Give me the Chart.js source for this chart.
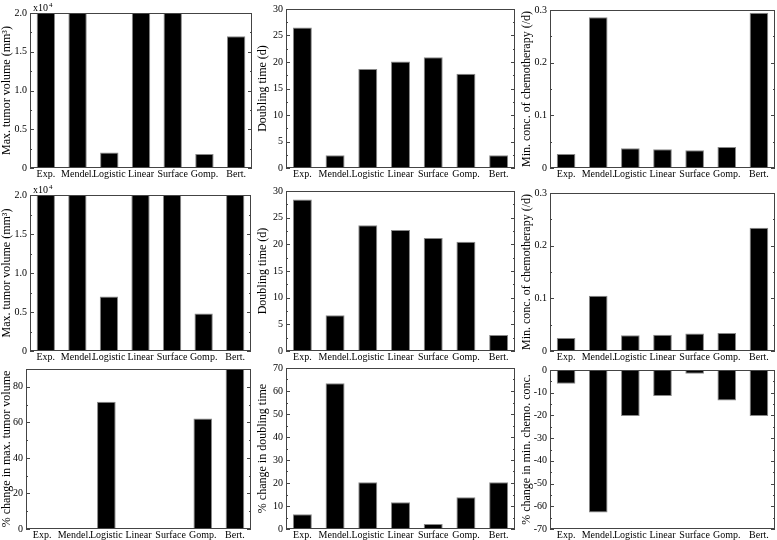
<!DOCTYPE html>
<html>
<head>
<meta charset="utf-8">
<script src="https://cdn.jsdelivr.net/npm/chart.js@4.4.1/dist/chart.umd.min.js"></script>
<style>
  body{margin:0;background:#fff}
  #wrap{position:relative;width:777px;height:540px;overflow:hidden;background:#fff}
  .box{position:absolute}
</style>
</head>
<body>
<div id="wrap"></div>
<script>
// Dados
const categories = ['Exp.','Mendel.','Logistic','Linear','Surface','Gomp.','Bert.'];

const maxVolA    = [20000,20000,2000,20000,20000,1800,17000];
const doublingA  = [26.5,2.4,18.7,20.1,20.9,17.8,2.4];
const minConcA   = [0.0266,0.286,0.0373,0.0354,0.0335,0.0399,0.295];

const maxVolB    = [20000,20000,7000,20000,20000,4800,20000];
const doublingB  = [28.4,6.7,23.6,22.7,21.2,20.5,3.0];
const minConcB   = [0.0245,0.105,0.030,0.031,0.033,0.034,0.234];

const pctMaxVol   = [null,null,71.6,null,null,62.2,90];
const pctDoubling = [6.4,63.4,20.3,11.6,2.2,13.8,20.3];
const pctMinConc  = [-6.1,-62.7,-20.2,-11.5,-1.7,-13.4,-20.2];

const FONT = "'Liberation Serif','Times New Roman',serif";

const fmtVol = v => v === 0 ? '0' : (v/1e4).toFixed(1);
const fmtDec = v => v === 0 ? '0' : v.toFixed(1);
const fmtInt = v => String(Math.round(v));

// paineis: area do grafico (L,T,R,B) em px da pagina
const panels = [
  {data:maxVolA,   title:'Max. tumor volume (mm\u00b3)',       min:0,   max:20000, step:5000, minor:2500, fmt:fmtVol, exp:true,  L:30,  T:13,  R:252, B:168, left:0,   top:0},
  {data:doublingA, title:'Doubling time (d)',                  min:0,   max:30,    step:5,    minor:2.5,  fmt:fmtInt,            L:286, T:8,   R:515, B:168, left:256, top:0},
  {data:minConcA,  title:'Min. conc. of chemotherapy (/d)',    min:0,   max:0.3,   step:0.1,  minor:0.05, fmt:fmtDec,            L:550, T:10,  R:775, B:168, left:520, top:0},
  {data:maxVolB,   title:'Max. tumor volume (mm\u00b3)',       min:0,   max:20000, step:5000, minor:2500, fmt:fmtVol, exp:true,  L:30,  T:195, R:251, B:351, left:0,   top:178},
  {data:doublingB, title:'Doubling time (d)',                  min:0,   max:30,    step:5,    minor:2.5,  fmt:fmtInt,            L:286, T:191, R:515, B:351, left:256, top:178},
  {data:minConcB,  title:'Min. conc. of chemotherapy (/d)',    min:0,   max:0.3,   step:0.1,  minor:0.05, fmt:fmtDec,            L:550, T:193, R:775, B:351, left:520, top:178},
  {data:pctMaxVol,   title:'% change in max. tumor volume',    min:0,   max:90,    step:20,   minor:10,   fmt:fmtInt,            L:26,  T:369, R:251, B:529, left:0,   top:356},
  {data:pctDoubling, title:'% change in doubling time',        min:0,   max:70,    step:10,   minor:5,    fmt:fmtInt,            L:286, T:368, R:515, B:529, left:256, top:356},
  {data:pctMinConc,  title:'% change in min. chemo. conc.',    min:-70, max:0,     step:10,   minor:5,    fmt:fmtInt,            L:550, T:370, R:775, B:529, left:520, top:356}
];

// moldura + marcas internas (esquerda e direita)
const framePlugin = {
  id:'frame',
  afterDraw(chart, args, opts){
    const {ctx, chartArea:a} = chart;
    const y = chart.scales.y;
    ctx.save();
    ctx.strokeStyle = '#444';
    ctx.lineWidth = 1;
    ctx.strokeRect(a.left+0.5, a.top+0.5, a.right-a.left-1, a.bottom-a.top-1);
    const lo = y.min, hi = y.max;
    const n = Math.round((hi-lo)/opts.minor);
    for(let i=0;i<=n;i++){
      const v = lo + i*opts.minor;
      const major = Math.abs(v/opts.step - Math.round(v/opts.step)) < 1e-6;
      const len = major ? 4 : 2;
      const py = Math.round(y.getPixelForValue(v)) + 0.5;
      ctx.beginPath();
      ctx.moveTo(a.left, py); ctx.lineTo(a.left+len, py);
      ctx.moveTo(a.right, py); ctx.lineTo(a.right-len, py);
      ctx.stroke();
    }
    if(opts.exp){
      ctx.fillStyle = '#000';
      ctx.font = '10px ' + FONT;
      ctx.textBaseline = 'alphabetic';
      ctx.fillText('x10', a.left+3, a.top-2);
      ctx.font = '7px ' + FONT;
      ctx.fillText('4', a.left+19, a.top-6);
    }
    ctx.restore();
  }
};

const wrap = document.getElementById('wrap');

panels.forEach(p => {
  const w = p.R - p.left + 2;
  const h = p.B - p.top + 12;
  const div = document.createElement('div');
  div.className = 'box';
  div.style.left = p.left + 'px';
  div.style.top = p.top + 'px';
  div.style.width = w + 'px';
  div.style.height = h + 'px';
  const cv = document.createElement('canvas');
  div.appendChild(cv);
  wrap.appendChild(div);

  new Chart(cv.getContext('2d'), {
    type:'bar',
    data:{labels:categories, datasets:[{data:p.data, backgroundColor:'#000', borderColor:'#888', borderWidth:1, barPercentage:0.58, categoryPercentage:1}]},
    options:{
      responsive:true, maintainAspectRatio:false, animation:false,
      layout:{padding:{left:0, top:p.T - p.top, right:2, bottom:0}},
      plugins:{legend:{display:false}, tooltip:{enabled:false}, frame:{minor:p.minor, step:p.step, exp:!!p.exp}},
      scales:{
        x:{
          grid:{display:false, drawTicks:false}, border:{display:false},
          ticks:{color:'#000', font:{family:FONT, size:10}, padding:0, autoSkip:false, maxRotation:0, minRotation:0},
          afterFit(s){ s.height = 12; }
        },
        y:{
          min:p.min, max:p.max,
          grid:{display:false, drawTicks:false}, border:{display:false},
          ticks:{stepSize:p.step, color:'#000', font:{family:FONT, size:10}, padding:3, callback:v => p.fmt(v)},
          afterBuildTicks(s){ s.ticks = s.ticks.filter(t => Math.abs(t.value/p.step - Math.round(t.value/p.step)) < 1e-6); },
          title:{display:true, text:p.title, color:'#000', font:{family:FONT, size:12}, padding:{top:0, bottom:2}},
          afterFit(s){ s.width = p.L - p.left; }
        }
      }
    },
    plugins:[framePlugin]
  });
});
</script>
</body>
</html>
